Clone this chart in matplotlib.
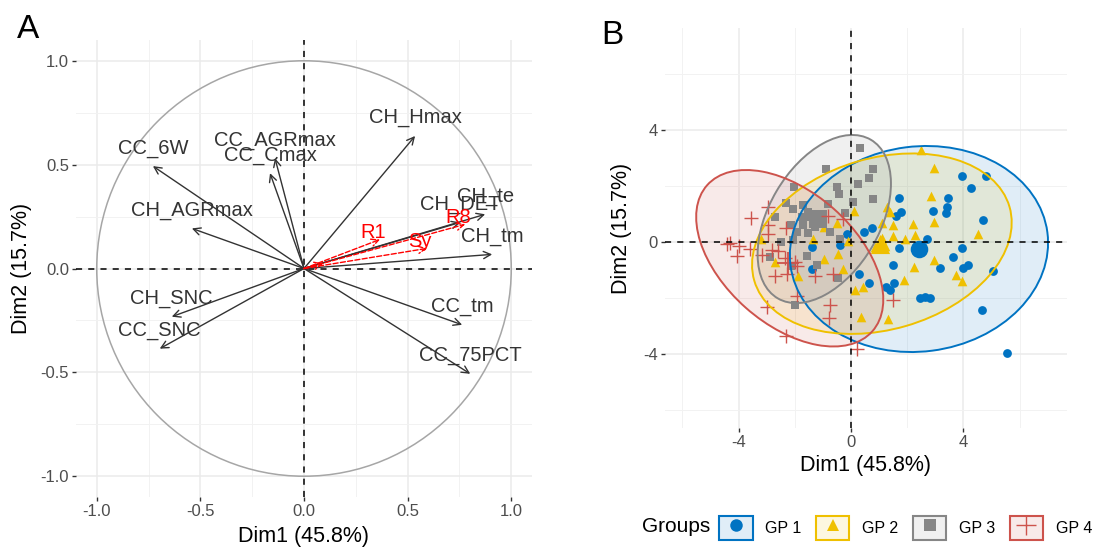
import numpy as np
import matplotlib.pyplot as plt
from matplotlib.patches import Ellipse, Circle, Rectangle
from matplotlib.lines import Line2D
from matplotlib.ticker import MultipleLocator

plt.rcParams['font.family'] = ['Liberation Sans', 'DejaVu Sans']
plt.rcParams['axes.unicode_minus'] = False

# ---- Panel A: variable correlation circle ----
var_names = ['CH_Hmax', 'CC_6W', 'CC_AGRmax', 'CC_Cmax', 'CH_AGRmax', 'CH_te',
             'CH_DET', 'CH_tm', 'CH_SNC', 'CC_SNC', 'CC_tm', 'CC_75PCT']
var_dim1 = [0.536, -0.729, -0.140, -0.164, -0.541, 0.874, 0.754, 0.908, -0.638, -0.696, 0.763, 0.802]
var_dim2 = [0.638, 0.493, 0.531, 0.459, 0.193, 0.261, 0.222, 0.068, -0.232, -0.386, -0.271, -0.507]

sup_names = ['R1', 'Sy', 'R8', '']
sup_dim1 = [0.367, 0.594, 0.778, 0.092]
sup_dim2 = [0.140, 0.097, 0.213, 0.024]

# ---- Panel B: individuals by group ----
gp1_x = [3.94, 4.79, 4.27, 1.70, 3.44, 2.91, 3.43, 3.40, 4.71, 1.78, 1.60, 0.74, 0.46, -0.15,
         2.69, 1.72, 3.96, 3.64, 3.17, 1.51, 4.17, 4.00, 5.06, 0.28, 0.64, 1.23, 1.39, 1.54,
         2.46, 2.63, 2.81, 4.65, 5.54, -1.40, -1.37, -0.39]
gp1_y = [2.36, 2.36, 1.94, 1.56, 1.58, 1.11, 1.26, 1.02, 0.79, 1.08, 0.93, 0.49, 0.37, 0.27,
         0.11, -0.20, -0.23, -0.52, -0.92, -0.82, -0.82, -0.94, -1.04, -1.15, -1.45, -1.60, -1.71, -1.48,
         -2.01, -1.95, -2.01, -2.43, -3.95, -0.18, -0.95, -0.11]
gp2_x = [2.49, 2.97, 2.84, 2.97, 2.22, 2.28, 1.51, 1.92, 1.48, 1.27, 1.39, 1.09, 0.85, 1.21,
         1.09, 4.51, 2.97, 2.24, 3.74, 3.97, 1.90, 0.42, 0.14, 0.10, -0.51, -0.96, -1.36, -3.22,
         -2.70, -0.97, -0.47, -0.27, -1.88, 0.36, 1.31, -0.12]
gp2_y = [3.29, 2.65, 1.64, 0.73, 0.64, 0.25, 0.23, 0.11, 0.61, 1.26, 1.08, 0.67, -0.17, -0.14,
         0.13, 0.27, -0.64, -0.88, -1.18, -1.38, -1.36, -1.60, -1.71, 1.10, 0.67, 0.55, 0.09, 0.12,
         -0.70, -0.60, -0.43, -0.95, -1.22, -2.67, -2.75, 0.05]
gp3_x = [0.32, -0.89, 0.77, 0.65, 0.26, -2.04, -0.51, -0.44, 0.77, 0.08, -2.32, -2.08, -0.81,
         -2.70, -0.20, -0.76, -0.40, -2.50, -1.56, -1.22, -2.88, -2.14, -0.46, -1.99, -1.70,
         -1.52, -1.75, -1.46, -1.28, -1.70, -1.93, -1.52, -2.14, -2.05]
gp3_y = [3.35, 2.62, 2.60, 2.30, 2.07, 1.96, 1.98, 1.71, 1.55, 1.42, 1.38, 1.17, 1.34,
         0.90, 1.02, 0.35, 0.12, 0.00, -0.51, -0.83, -0.55, -0.87, -1.30, -2.25, 1.32,
         1.08, 0.90, 0.90, 0.55, 0.61, 0.37, 0.31, 0.61, 0.07]
gp4_x = [-2.94, -3.57, -2.94, -2.94, -2.33, -4.42, -4.31, -3.98, -4.04, -3.59, -3.18, -2.82,
         -2.59, -2.35, -1.99, -1.92, -2.70, -2.29, -1.28, -0.64, -0.81, -0.27, -1.93, -0.75,
         -0.77, -3.00, -2.31, 0.20, 1.48]
gp4_y = [1.26, 0.86, 0.62, 0.27, 0.49, -0.08, -0.05, -0.14, -0.50, -0.25, -0.46, -0.29,
         -0.31, -0.58, -0.70, -0.87, -1.21, -1.15, -1.21, -1.13, 0.93, 0.82, -1.94, -2.25,
         -2.72, -2.33, -3.37, -3.82, -2.06]

group_names = ['GP 1', 'GP 2', 'GP 3', 'GP 4']
group_colors = ['#0073C2', '#EFC000', '#868686', '#CD534C']
group_markers = ['o', '^', 's', '+']

# concentration ellipses: centre, semi-axes, angle (deg)
ell_cx = [2.42, 1.10, -0.95, -2.18]
ell_cy = [-0.25, -0.06, 0.82, -0.58]
ell_a = [4.61, 4.73, 3.28, 3.93]
ell_b = [3.66, 3.06, 1.97, 2.36]
ell_angle = [7.4, 16.2, 59.7, -41.6]

W, H = 1099, 547
fig = plt.figure(figsize=(W / 100, H / 100), dpi=100)


def style_axes(ax):
    for s in ax.spines.values():
        s.set_visible(False)
    ax.grid(which='major', color='#EBEBEB', lw=1.1)
    ax.grid(which='minor', color='#F2F2F2', lw=0.7)
    ax.set_axisbelow(True)
    ax.tick_params(which='major', direction='out', length=3, width=1.0, color='#333333',
                   labelcolor='#4D4D4D', labelsize=12, pad=2)
    ax.tick_params(which='minor', length=0)


# ---------------- Panel A ----------------
axA = fig.add_axes([76 / W, 1 - 497 / H, 456 / W, 457 / H])
style_axes(axA)
axA.set_xlim(-1.1, 1.1)
axA.set_ylim(-1.1, 1.1)
axA.xaxis.set_major_locator(MultipleLocator(0.5))
axA.yaxis.set_major_locator(MultipleLocator(0.5))
axA.xaxis.set_minor_locator(MultipleLocator(0.25))
axA.yaxis.set_minor_locator(MultipleLocator(0.25))
axA.xaxis.set_major_formatter(lambda v, p: f'{v:.1f}')
axA.yaxis.set_major_formatter(lambda v, p: f'{v:.1f}')

axA.add_patch(Circle((0, 0), 1, fill=False, ec='#A6A6A6', lw=1.1))
axA.axhline(0, color='black', ls=(0, (4, 4)), lw=1.1)
axA.axvline(0, color='black', ls=(0, (4, 4)), lw=1.1)

for name, x, y in zip(var_names, var_dim1, var_dim2):
    axA.annotate('', xy=(x, y), xytext=(0, 0),
                 arrowprops=dict(arrowstyle='->', color='#333333', lw=1.0,
                                 shrinkA=0, shrinkB=0, mutation_scale=13))
    axA.annotate(name, xy=(x, y), xytext=(0, 13), textcoords='offset points',
                 ha='center', va='center', fontsize=14.5, color='#333333')

for name, x, y in zip(sup_names, sup_dim1, sup_dim2):
    axA.annotate('', xy=(x, y), xytext=(0, 0),
                 arrowprops=dict(arrowstyle='->', color='#FF0000', lw=1.0, ls='--',
                                 shrinkA=0, shrinkB=0, mutation_scale=13))
    axA.annotate(name, xy=(x, y), xytext=(-5, 5), textcoords='offset points',
                 ha='center', va='center', fontsize=14.5, color='#FF0000')

axA.set_xlabel('Dim1 (45.8%)', fontsize=15.5, labelpad=5)
axA.set_ylabel('Dim2 (15.7%)', fontsize=15.5, labelpad=6)

# ---------------- Panel B ----------------
axB = fig.add_axes([665 / W, 1 - 428 / H, 402 / W, 400 / H])
style_axes(axB)
axB.set_xlim(-6.62, 7.69)
axB.set_ylim(-6.64, 7.64)
axB.xaxis.set_major_locator(MultipleLocator(4))
axB.yaxis.set_major_locator(MultipleLocator(4))
axB.xaxis.set_minor_locator(MultipleLocator(2))
axB.yaxis.set_minor_locator(MultipleLocator(2))

gx = [gp1_x, gp2_x, gp3_x, gp4_x]
gy = [gp1_y, gp2_y, gp3_y, gp4_y]
pt_size = [40, 48, 36, 100]
mean_size = [160, 190, 150, 240]

for i in range(4):
    e = Ellipse((ell_cx[i], ell_cy[i]), 2 * ell_a[i], 2 * ell_b[i], angle=ell_angle[i],
                fc=group_colors[i], alpha=0.12, ec='none', zorder=1)
    axB.add_patch(e)

for i in range(4):
    m = group_markers[i]
    if m == '+':
        axB.scatter(gx[i], gy[i], marker='+', s=pt_size[i], lw=1.0, color=group_colors[i], zorder=3)
        axB.scatter(np.mean(gx[i]), np.mean(gy[i]), marker='+', s=mean_size[i], lw=1.3,
                    color=group_colors[i], zorder=3)
    else:
        axB.scatter(gx[i], gy[i], marker=m, s=pt_size[i], color=group_colors[i], lw=0, zorder=3)
        axB.scatter(np.mean(gx[i]), np.mean(gy[i]), marker=m, s=mean_size[i],
                    color=group_colors[i], lw=0, zorder=3)

for i in range(4):
    e = Ellipse((ell_cx[i], ell_cy[i]), 2 * ell_a[i], 2 * ell_b[i], angle=ell_angle[i],
                fc='none', ec=group_colors[i], lw=1.4, zorder=4)
    axB.add_patch(e)

axB.axhline(0, color='black', ls=(0, (4, 4)), lw=1.1, zorder=5)
axB.axvline(0, color='black', ls=(0, (4, 4)), lw=1.1, zorder=5)

axB.set_xlabel('Dim1 (45.8%)', fontsize=15.5, labelpad=4)
axB.set_ylabel('Dim2 (15.7%)', fontsize=15.5, labelpad=8)

# legend
handles = []
for c, m in zip(group_colors, group_markers):
    box = Rectangle((0, 0), 1, 1, fc=(*plt.matplotlib.colors.to_rgb(c), 0.12), ec=c, lw=1.5)
    if m == '+':
        mk = Line2D([], [], ls='', marker='+', ms=15, mew=1.0, color=c)
    else:
        mk = Line2D([], [], ls='', marker=m, ms=9, mew=0, color=c)
    handles.append((box, mk))
fig.legend(handles, group_names, loc='center left', bbox_to_anchor=(719 / W, 1 - 528 / H),
           ncol=4, frameon=False, fontsize=11.5, handlelength=2.1, handleheight=1.9,
           handletextpad=0.8, columnspacing=0.9, borderpad=0, borderaxespad=0)
fig.text(676 / W, 1 - 527 / H, 'Groups', fontsize=15, ha='center', va='center')

# panel letters
fig.text(28 / W, 1 - 29 / H, 'A', fontsize=24, ha='center', va='center',
         family=['Liberation Sans Narrow', 'Liberation Sans'])
fig.text(612 / W, 1 - 35 / H, 'B', fontsize=24, ha='center', va='center',
         family=['Liberation Sans Narrow', 'Liberation Sans'])

fig.savefig('out.png', dpi=100, facecolor='white')
